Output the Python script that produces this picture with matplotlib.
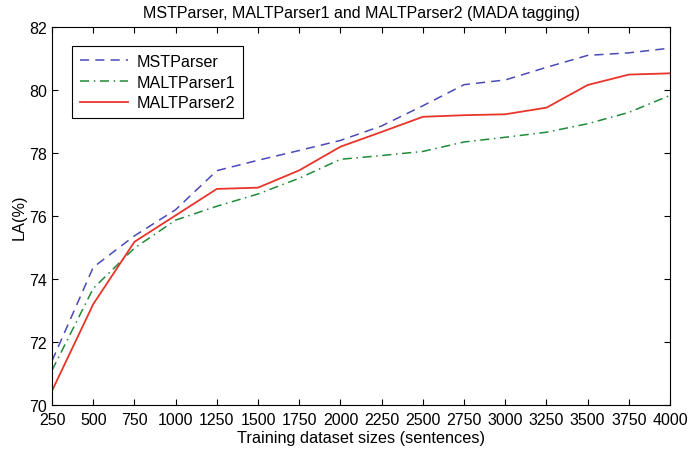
import matplotlib

matplotlib.use("Agg")
import matplotlib.pyplot as plt

plt.rcParams["font.family"] = ["Liberation Sans", "DejaVu Sans"]

SIZES = [250, 500, 750, 1000, 1250, 1500, 1750, 2000, 2250, 2500,
         2750, 3000, 3250, 3500, 3750, 4000]

MST = [71.4, 74.37, 75.37, 76.2, 77.44, 77.77, 78.08, 78.4, 78.86, 79.5,
       80.17, 80.32, 80.72, 81.1, 81.18, 81.33]
MALT1 = [71.1, 73.7, 74.98, 75.87, 76.31, 76.7, 77.2, 77.8, 77.92, 78.05,
         78.35, 78.5, 78.66, 78.93, 79.29, 79.83]
MALT2 = [70.45, 73.2, 75.18, 76.02, 76.86, 76.9, 77.45, 78.2, 78.67, 79.15,
         79.2, 79.23, 79.44, 80.16, 80.49, 80.53]


def main():
    fig = plt.figure(figsize=(6.88, 4.52), dpi=100)
    ax = fig.add_axes([0.0756, 0.1018, 0.8984, 0.8362])

    ax.plot(SIZES, MST, color="#4a4ab8", linestyle=(0, (6, 4)), linewidth=1.1,
            label="MSTParser")
    ax.plot(SIZES, MALT1, color="#1f8a38", linestyle=(0, (6, 3, 1, 3)), linewidth=1.1,
            label="MALTParser1")
    ax.plot(SIZES, MALT2, color="#e8342a", linestyle="-", linewidth=1.3,
            label="MALTParser2")

    ax.set_xlim(250, 4000)
    ax.set_ylim(70, 82)
    ax.set_xticks(SIZES)
    ax.set_yticks([70, 72, 74, 76, 78, 80, 82])
    ax.tick_params(direction="in", top=True, right=True, labelsize=11.5, length=4)
    ax.tick_params(axis="x", pad=5)
    for spine in ax.spines.values():
        spine.set_linewidth(0.8)

    ax.set_xlabel("Training dataset sizes (sentences)", fontsize=11.7, labelpad=2)
    ax.set_ylabel("LA(%)", fontsize=11.7, labelpad=2)
    ax.set_title("MSTParser, MALTParser1 and MALTParser2 (MADA tagging)",
                 fontsize=11.5, pad=7)

    leg = ax.legend(loc="upper left", bbox_to_anchor=(0.032, 0.95), borderaxespad=0,
                    fontsize=11.6, fancybox=False, framealpha=1, edgecolor="black",
                    handlelength=3.0, handletextpad=0.5, borderpad=0.5,
                    labelspacing=0.35)
    leg.get_frame().set_linewidth(0.8)

    fig.savefig("out.png", dpi=100)
    plt.close(fig)


if __name__ == "__main__":
    main()
